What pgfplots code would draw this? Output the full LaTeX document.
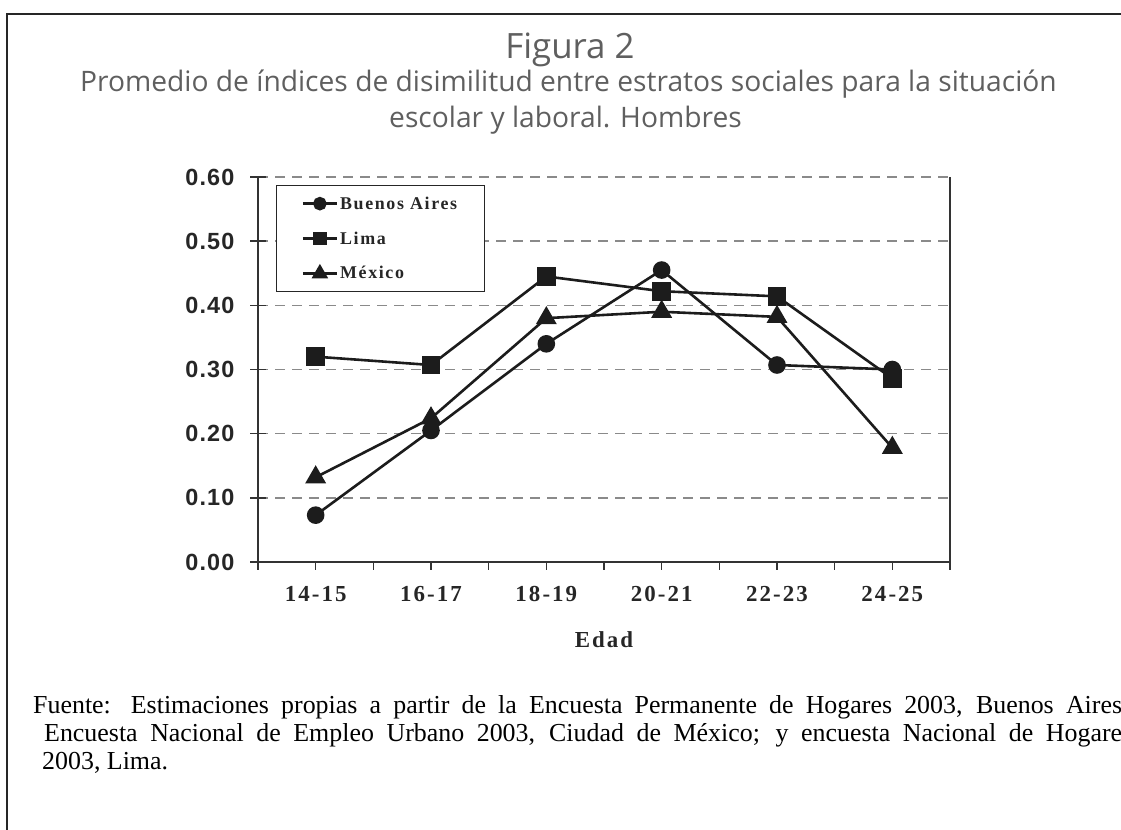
\documentclass[border=0pt]{standalone}
\usepackage{pgfplots}
\pgfplotsset{compat=1.18}
\usepackage{fontspec}
\setmainfont{Liberation Serif}
\newfontfamily\opensans{Open Sans}
\newfontfamily\arialf{Liberation Sans}[LetterSpace=5]
\newfontfamily\timessp{Liberation Serif}[LetterSpace=9]
\definecolor{titlegray}{HTML}{5F5F5F}
\definecolor{linecol}{HTML}{1C1C1C}
\definecolor{axiscol}{HTML}{333333}
\definecolor{gridcol}{HTML}{8A8A8A}
\begin{document}
\begin{tikzpicture}
\useasboundingbox (0bp,0bp) rectangle (1121bp,830bp);
% frame
\draw[line width=2.6bp, color=black!85] (7bp,-5bp) -- (7bp,816bp) -- (1130bp,816bp);
% titles
\node[anchor=base, inner sep=0pt, font=\opensans\fontsize{35}{40}\selectfont, text=titlegray] at (570bp,771bp) {Figura 2};
\node[anchor=base, inner sep=0pt, font=\opensans\fontsize{28.3}{32}\selectfont, text=titlegray] at (568.5bp,738bp) {Promedio de índices de disimilitud entre estratos sociales para la situación};
\node[anchor=base east, inner sep=0pt, font=\opensans\fontsize{28.3}{32}\selectfont, text=titlegray] at (742bp,702bp) {escolar y laboral. Hombres};
% footnote (justified lines, cut at the right edge as in the source)
\node[anchor=base west, inner sep=0pt, font=\fontsize{26}{28}\selectfont] at (33bp,116bp) {\makebox[1096bp][s]{Fuente: Estimaciones propias a partir de la Encuesta Permanente de Hogares 2003, Buenos Aires;}};
\node[anchor=base west, inner sep=0pt, font=\fontsize{26}{28}\selectfont] at (44bp,88bp) {\makebox[1088bp][s]{Encuesta Nacional de Empleo Urbano 2003, Ciudad de México; y encuesta Nacional de Hogares}};
\node[anchor=base west, inner sep=0pt, font=\fontsize{26}{28}\selectfont] at (42bp,60bp) {2003, Lima.};
\begin{axis}[
  at={(258bp,268bp)}, anchor=south west,
  scale only axis, width=692bp, height=385bp,
  xmin=0.5, xmax=6.5, ymin=0, ymax=0.6,
  axis x line=bottom, axis y line=left,
  axis line style={-, color=axiscol, line width=1.6bp},
  xtick={0.5,1.5,...,6.5}, xticklabels={},
  extra x ticks={1,2,3,4,5,6},
  extra x tick labels={14-15,16-17,18-19,20-21,22-23,24-25},
  extra x tick style={major tick length=0bp, grid=none},
  xtick align=outside,
  ytick={0,0.1,0.2,0.3,0.4,0.5,0.6},
  ytick align=center,
  major tick length=16bp,
  xtick style={/pgfplots/major tick length=8bp},
  tick style={color=axiscol, line width=1.4bp},
  ymajorgrids,
  major grid style={gridcol, line width=1.5bp, dash pattern=on 10bp off 7bp},
  yticklabel style={/pgf/number format/fixed, /pgf/number format/fixed zerofill, /pgf/number format/precision=2, /pgf/number format/assume math mode=true},
  yticklabel style={font=\arialf\bfseries\fontsize{23.5}{26}\selectfont, text=black!85, xshift=-12bp},
  xticklabel style={font=\timessp\bfseries\fontsize{23}{26}\selectfont, text=black!85, yshift=-21bp},
  xlabel={Edad},
  every axis x label/.style={at={(axis description cs:0.5,-0.2026)}, anchor=center, font=\timessp\bfseries\fontsize{23}{26}\selectfont, text=black!85},
  clip=false,
  legend style={at={(0.026,0.979)}, anchor=north west, draw=black!85, line width=1.2bp, fill=white,
    font=\timessp\bfseries\fontsize{18}{20}\selectfont, text=black!85,
    inner xsep=25bp, inner ysep=9bp, row sep=17bp},
  legend cell align=left,
  legend image code/.code={\draw[mark repeat=2,mark phase=2,#1] plot coordinates {(0bp,0bp) (17bp,0bp) (34bp,0bp)};},
]
\addplot[color=linecol, line width=2.6bp, mark=*, mark size=7.5bp, mark options={solid, fill=linecol}, legend image post style={mark size=5.5bp}]
  coordinates {(1,0.073) (2,0.205) (3,0.340) (4,0.455) (5,0.307) (6,0.300)};
\addlegendentry{Buenos Aires}
\addplot[color=linecol, line width=2.6bp, mark=square*, mark size=8bp, mark options={solid, fill=linecol}, legend image post style={mark size=5.5bp}]
  coordinates {(1,0.320) (2,0.307) (3,0.445) (4,0.422) (5,0.414) (6,0.286)};
\addlegendentry{Lima}
\addplot[color=linecol, line width=2.6bp, mark=triangle*, mark size=9.5bp, mark options={solid, fill=linecol}, legend image post style={mark size=7bp}]
  coordinates {(1,0.132) (2,0.224) (3,0.380) (4,0.390) (5,0.382) (6,0.178)};
\addlegendentry{México}
\draw[color=axiscol, line width=1.6bp] (rel axis cs:1,0) -- (rel axis cs:1,1);
\end{axis}
\end{tikzpicture}
\end{document}
